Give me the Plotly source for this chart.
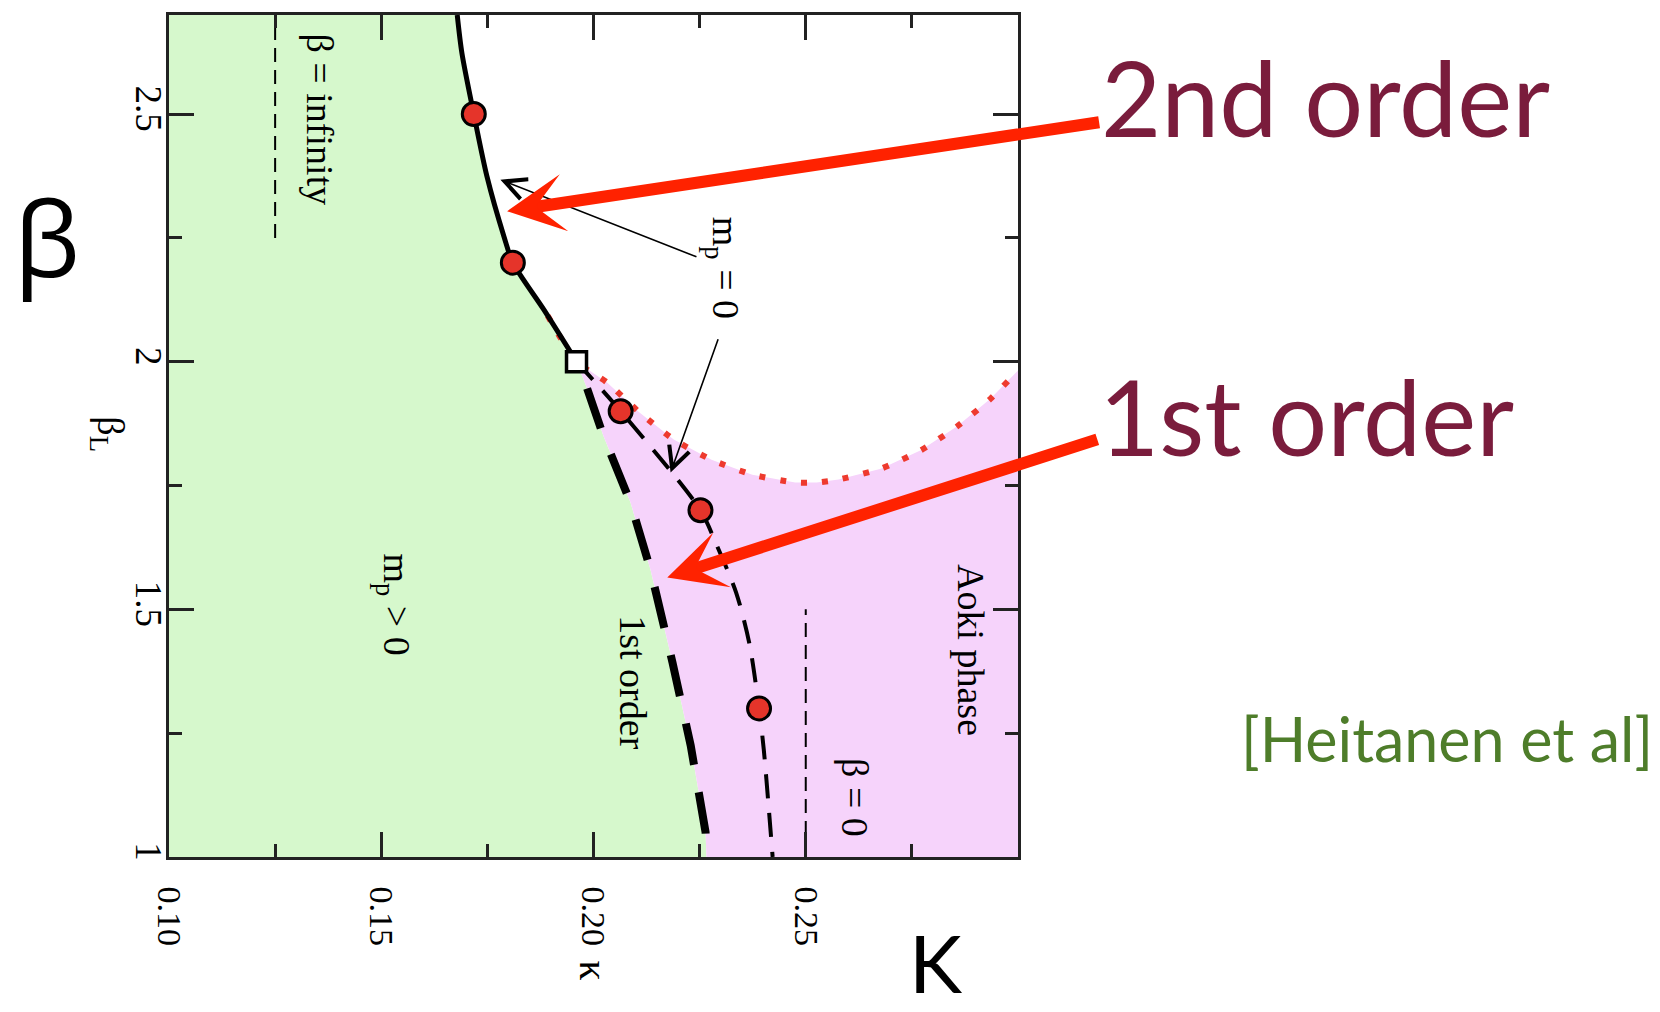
import plotly.graph_objects as go

# ---- axis ticks ----
kappa_ticks = [0.10, 0.15, 0.20, 0.25]
kappa_ticktext = ["0.10", "0.15", "0.20", "0.25"]
beta_ticks = [1.0, 1.5, 2.0, 2.5]
beta_ticktext = ["1", "1.5", "2", "2.5"]
k_min, k_max = 0.10, 0.30
b_min, b_max = 1.0, 2.7

# ---- 2nd order transition line (solid) ----
second_kappa = [0.1679, 0.1690, 0.1718, 0.1749, 0.1789, 0.1810, 0.1883, 0.1960]
second_beta = [2.700, 2.623, 2.500, 2.374, 2.253, 2.200, 2.105, 2.000]

# ---- 1st order transition line (thin dashed) ----
first_kappa = [0.1960, 0.2064, 0.2252, 0.2290, 0.2336, 0.2367, 0.2390, 0.2401, 0.2413, 0.2422]
first_beta = [2.000, 1.900, 1.700, 1.630, 1.534, 1.432, 1.300, 1.218, 1.097, 1.000]

# ---- 1st order phase boundary (thick dashed) ----
bound_kappa = [0.1985, 0.2023, 0.2087, 0.2134, 0.2186, 0.2229, 0.2264, 0.2266]
bound_beta = [1.946, 1.851, 1.716, 1.581, 1.393, 1.225, 1.050, 1.000]

# ---- m_p = 0 line (red dotted) ----
mp0_kappa = [0.1892, 0.1960, 0.2032, 0.2109, 0.2189, 0.2278, 0.2374, 0.2475,
             0.2526, 0.2577, 0.2677, 0.2771, 0.2856, 0.2935, 0.3000]
mp0_beta = [2.093, 2.000, 1.958, 1.897, 1.843, 1.802, 1.772, 1.756,
            1.756, 1.762, 1.784, 1.821, 1.869, 1.925, 1.982]

# ---- simulation points ----
pt_kappa = [0.1718, 0.1810, 0.2064, 0.2252, 0.2390]
pt_beta = [2.5, 2.2, 1.9, 1.7, 1.3]
end_kappa = [0.1960]
end_beta = [2.0]

# ---- limiting cases ----
inf_kappa = [0.125, 0.125]
inf_beta = [2.25, 2.70]
zero_kappa = [0.25, 0.25]
zero_beta = [1.0, 1.5]

GREEN = "#D6F8CC"
PINK = "#F6D3FB"
AXC = "#222222"
SERIF = "Liberation Serif"
SANS = "Lato"
RED = "#FF2200"
MAROON = "#7A1C3C"

fig = go.Figure()

# symmetric (green) phase region
fig.add_trace(go.Scatter(
    x=[k_min, k_min] + second_kappa + bound_kappa,
    y=[b_min, b_max] + second_beta + bound_beta,
    mode="none", fill="toself", fillcolor=GREEN, hoverinfo="skip", showlegend=False))

# Aoki phase (pink) region
fig.add_trace(go.Scatter(
    x=mp0_kappa[1:] + [k_max] + bound_kappa[::-1],
    y=mp0_beta[1:] + [b_min] + bound_beta[::-1],
    mode="none", fill="toself", fillcolor=PINK, hoverinfo="skip", showlegend=False))

line_opts = dict(mode="lines", hoverinfo="skip", showlegend=False)
fig.add_trace(go.Scatter(x=inf_kappa, y=inf_beta,
                         line=dict(color="black", width=2, dash="14px,8px"), **line_opts))
fig.add_trace(go.Scatter(x=zero_kappa, y=zero_beta,
                         line=dict(color="black", width=2, dash="14px,8px"), **line_opts))
fig.add_trace(go.Scatter(x=mp0_kappa, y=mp0_beta,
                         line=dict(color="#EE3A2E", width=6, dash="6px,15px",
                                   shape="spline", smoothing=0.6), **line_opts))
fig.add_trace(go.Scatter(x=bound_kappa, y=bound_beta,
                         line=dict(color="black", width=8, dash="42px,28px"), **line_opts))
fig.add_trace(go.Scatter(x=first_kappa, y=first_beta,
                         line=dict(color="black", width=4, dash="24px,15px",
                                   shape="spline", smoothing=0.8), **line_opts))
fig.add_trace(go.Scatter(x=second_kappa, y=second_beta,
                         line=dict(color="black", width=5, shape="spline", smoothing=0.8),
                         **line_opts))

fig.add_trace(go.Scatter(
    x=pt_kappa, y=pt_beta, mode="markers", hoverinfo="skip", showlegend=False,
    marker=dict(size=23, color="#E5342A", line=dict(color="black", width=3))))
fig.add_trace(go.Scatter(
    x=end_kappa, y=end_beta, mode="markers", hoverinfo="skip", showlegend=False,
    marker=dict(symbol="square", size=20, color="white", line=dict(color="black", width=3.5))))

axis_common = dict(
    showgrid=False, zeroline=False, showline=True, linewidth=2.5, linecolor=AXC,
    mirror="ticks", ticks="inside", ticklen=25, tickwidth=2.5, tickcolor=AXC,
    tickangle=90, tickmode="array",
)
fig.update_xaxes(range=[k_min, k_max], tickvals=kappa_ticks, ticktext=kappa_ticktext,
                 ticklabelstandoff=20,
                 tickfont=dict(family=SERIF, size=34, color="black"),
                 minor=dict(ticks="inside", ticklen=13, tickwidth=2.5, tickcolor=AXC,
                            tick0=0.1, dtick=0.025, showgrid=False),
                 **axis_common)
fig.update_yaxes(range=[b_min, b_max], tickvals=beta_ticks, ticktext=beta_ticktext,
                 ticklabelstandoff=-14,
                 tickfont=dict(family=SERIF, size=37, color="black"),
                 minor=dict(ticks="inside", ticklen=13, tickwidth=2.5, tickcolor=AXC,
                            tick0=1.0, dtick=0.25, showgrid=False),
                 **axis_common)

ann = []
# labels inside the phase diagram (rotated serif text)
for txt, kx, by in [
    ("β = infinity", 0.1358, 2.489),
    ("m<sub>p</sub> > 0", 0.1530, 1.510),
    ("1st order", 0.2094, 1.352),
    ("Aoki phase", 0.2888, 1.417),
    ("β = 0", 0.2616, 1.119),
]:
    ann.append(dict(text=txt, x=kx, y=by, xref="x", yref="y", showarrow=False,
                    xanchor="center", yanchor="middle", textangle=90,
                    font=dict(family=SERIF, size=38, color="black")))

# m_p = 0 label with its two thin pointers
mp_label_k, mp_label_b = 0.2307, 2.190
ann.append(dict(text="m<sub>p</sub> = 0", x=0.17807, y=2.3675, xref="x", yref="y",
                ax=mp_label_k, ay=mp_label_b, axref="x", ayref="y",
                xanchor="center", yanchor="middle", textangle=90,
                font=dict(family=SERIF, size=38, color="black"),
                showarrow=True, arrowhead=5, arrowwidth=1.6, arrowsize=2.6,
                arrowcolor="black", standoff=0, startstandoff=2))
ann.append(dict(x=0.21816, y=1.7762, ax=0.22948, ay=2.0484, xref="x", yref="y",
                axref="x", ayref="y", text="", showarrow=True, arrowhead=5,
                arrowwidth=1.6, arrowsize=2.6, arrowcolor="black", standoff=0))

# axis titles
ann.append(dict(text="κ", x=0.4995, y=-0.135, xref="paper", yref="paper",
                xanchor="center", yanchor="middle", showarrow=False, textangle=90,
                font=dict(family=SERIF, size=40, color="black")))
ann.append(dict(text="β<sub>L</sub>", x=-0.0723, y=0.5024, xref="paper", yref="paper",
                xanchor="center", yanchor="middle", showarrow=False, textangle=90,
                font=dict(family=SERIF, size=38, color="black")))

# big labels
ann.append(dict(text="β", x=-0.1437, y=0.737, xref="paper", yref="paper",
                xanchor="center", yanchor="middle", showarrow=False,
                font=dict(family="Open Sans", size=105, color="black")))
ann.append(dict(text="K", x=0.9034, y=-0.1836, xref="paper", yref="paper",
                xanchor="center", yanchor="bottom", showarrow=False,
                font=dict(family=SANS, size=80, color="black")))
ann.append(dict(text="[Heitanen et al]", x=1.7503, y=0.141, xref="paper", yref="paper",
                xanchor="right", yanchor="middle", showarrow=False,
                font=dict(family=SANS, size=61, color="#4E7D2A")))

# order labels, each with a red arrow pointing at its transition line
ann.append(dict(text="2nd order", x=0.17965, y=2.3038, xref="x", yref="y",
                ax=592, ay=-89, xanchor="left", yanchor="middle",
                height=177, valign="top",
                font=dict(family=SANS, size=104, color=MAROON),
                showarrow=True, arrowhead=3, arrowwidth=12, arrowsize=0.8,
                arrowcolor=RED, standoff=0))
ann.append(dict(text="1st order", x=0.21738, y=1.5645, xref="x", yref="y",
                ax=430, ay=-138, xanchor="left", yanchor="middle",
                height=173, valign="top",
                font=dict(family=SANS, size=104, color=MAROON),
                showarrow=True, arrowhead=3, arrowwidth=12, arrowsize=0.8,
                arrowcolor=RED, standoff=0))

fig.update_layout(
    width=1660, height=1012, autosize=False,
    margin=dict(l=169, r=642, t=13, b=155),
    paper_bgcolor="white", plot_bgcolor="white",
    annotations=ann, showlegend=False,
)

fig.write_html("out.html")
